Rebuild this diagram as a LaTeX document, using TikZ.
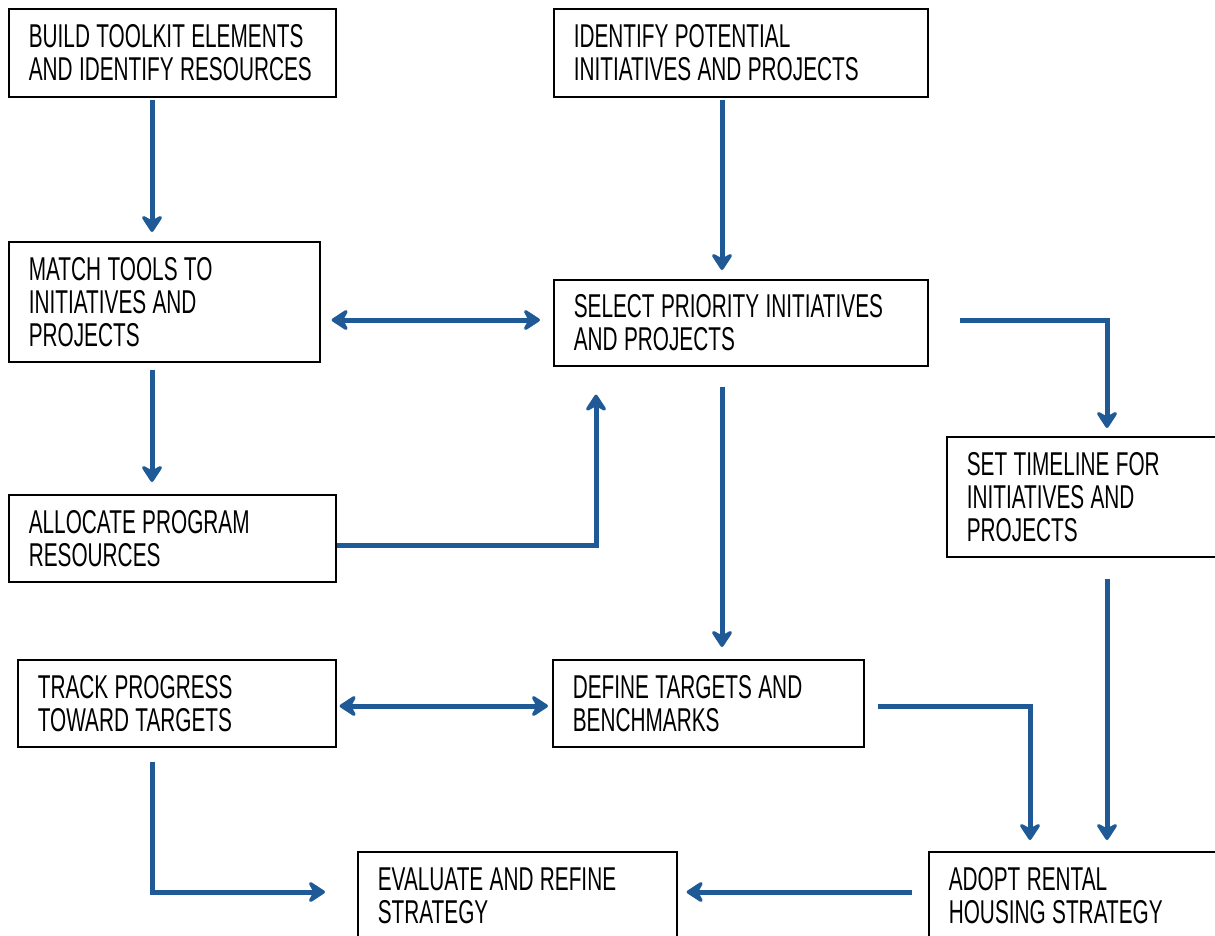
\documentclass[tikz,border=0pt]{standalone}
\usepackage{fontspec}
\setmainfont{Liberation Sans}[FakeStretch=0.63, WordSpace=1.1]
\usetikzlibrary{arrows.meta}

\definecolor{flowblue}{RGB}{31,90,150}
\hyphenpenalty=10000

\begin{document}
\begin{tikzpicture}[
    x=1pt, y=-1pt,
    box/.style={draw, line width=1.6pt, anchor=north west, align=flush left,
        inner xsep=20pt, inner ysep=0pt, font=\fontsize{33}{33}\selectfont},
    flow/.style={draw=flowblue, line width=5pt,
        -{Stealth[length=20pt, width=26pt, inset=7pt, round]}},
    twoway/.style={flow, {Stealth[length=20pt, width=26pt, inset=7pt, round]}-{Stealth[length=20pt, width=26pt, inset=7pt, round]}}
]

    % Page frame
    \useasboundingbox (0,0) rectangle (1215,935);

    % Boxes
    \node[box, text width=287pt, minimum height=88pt] (build) at (8,8) {BUILD TOOLKIT ELEMENTS\\AND IDENTIFY RESOURCES};
    \node[box, text width=334pt, minimum height=88pt] (identify) at (553,8) {IDENTIFY POTENTIAL\\INITIATIVES AND PROJECTS};
    \node[box, text width=271pt, minimum height=120pt] (match) at (8,241) {MATCH TOOLS TO\\INITIATIVES AND\\PROJECTS};
    \node[box, text width=334pt, minimum height=86pt] (select) at (553,279) {SELECT PRIORITY INITIATIVES\\AND PROJECTS};
    \node[box, text width=287pt, minimum height=87pt] (allocate) at (8,494) {ALLOCATE PROGRAM\\RESOURCES};
    \node[box, text width=270pt, minimum height=120pt] (timeline) at (946,436) {SET TIMELINE FOR\\INITIATIVES AND\\PROJECTS};
    \node[box, text width=278pt, minimum height=87pt] (track) at (17,659) {TRACK PROGRESS\\TOWARD TARGETS};
    \node[box, text width=271pt, minimum height=87pt] (define) at (552,659) {DEFINE TARGETS AND\\BENCHMARKS};
    \node[box, text width=279pt, minimum height=88pt] (evaluate) at (357,851) {EVALUATE AND REFINE\\STRATEGY};
    \node[box, text width=280pt, minimum height=88pt] (adopt) at (928,851) {ADOPT RENTAL\\HOUSING STRATEGY};

    % Guide lines for the connectors
    \coordinate (colA) at (152,0);
    \coordinate (colB) at (722,0);
    \coordinate (colC) at (596,0);
    \coordinate (colD) at (1107,0);
    \coordinate (colE) at (1030,0);
    \coordinate (rowA) at (0,320);
    \coordinate (rowB) at (0,545);
    \coordinate (rowC) at (0,706);
    \coordinate (rowD) at (0,892);

    % Left column
    \draw[flow, shorten <=2pt, shorten >=9pt] (build.south -| colA) -- (match.north -| colA);
    \draw[flow, shorten <=7pt, shorten >=12pt] (match.south -| colA) -- (allocate.north -| colA);
    \draw[twoway, shorten <=11pt, shorten >=13pt] (match.east |- rowA) -- (select.west |- rowA);
    \draw[flow, shorten >=28pt] (allocate.east |- rowB) -- (colC |- rowB) -- (select.south -| colC);

    % Middle column
    \draw[flow, shorten <=2pt, shorten >=9pt] (identify.south -| colB) -- (select.north -| colB);
    \draw[flow, shorten <=20pt, shorten >=12pt] (select.south -| colB) -- (define.north -| colB);
    \draw[twoway, shorten <=3pt, shorten >=4pt] (track.east |- rowC) -- (define.west |- rowC);

    % Right column
    \draw[flow, shorten <=31pt, shorten >=8pt] (select.east |- rowA) -- (colD |- rowA) -- (timeline.north -| colD);
    \draw[flow, shorten <=21pt, shorten >=11pt] (timeline.south -| colD) -- (adopt.north -| colD);
    \draw[flow, shorten <=13pt, shorten >=11pt] (define.east |- rowC) -- (colE |- rowC) -- (adopt.north -| colE);

    % Bottom row
    \draw[flow, shorten <=14pt, shorten >=32pt] (track.south -| colA) -- (colA |- rowD) -- (evaluate.west |- rowD);
    \draw[flow, shorten <=16pt, shorten >=9pt] (adopt.west |- rowD) -- (evaluate.east |- rowD);

\end{tikzpicture}
\end{document}
